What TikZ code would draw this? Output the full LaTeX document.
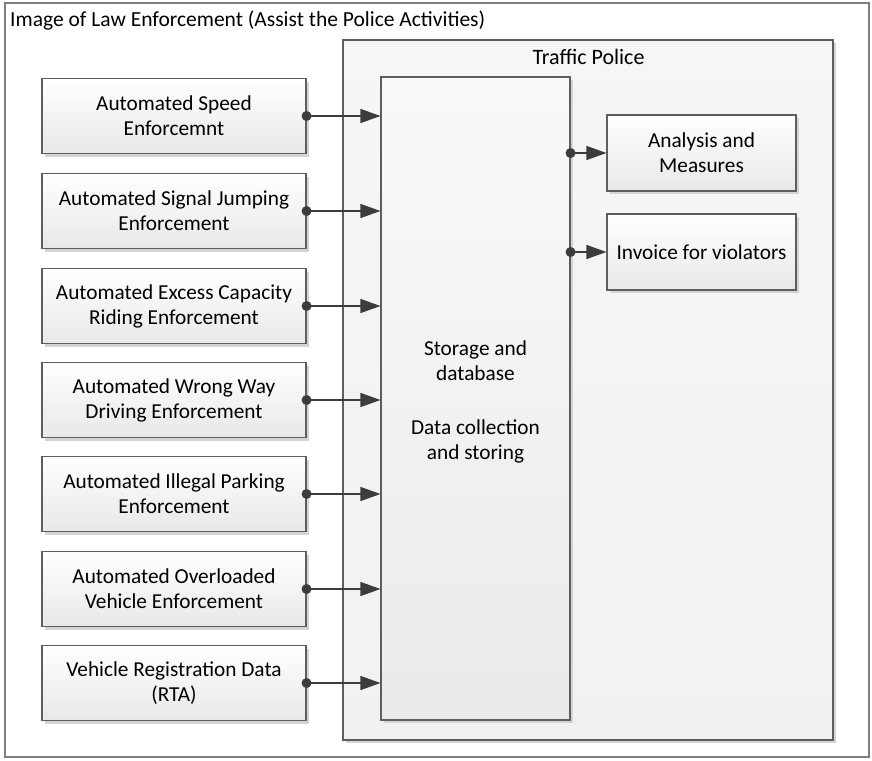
\documentclass[tikz,border=0pt]{standalone}
\usepackage{fontspec}
\setmainfont{Carlito}
\usetikzlibrary{arrows.meta,shadows}
\definecolor{edge}{HTML}{5E5E5E}
\definecolor{boxbot}{HTML}{E8E8E8}
\definecolor{shade}{HTML}{D4D4D4}
\definecolor{wire}{HTML}{3C3C3C}
\begin{document}
\begin{tikzpicture}[x=1pt,y=-1pt,
  boxtext/.style={font=\fontsize{21.3}{25}\selectfont},
  srcbox/.style={boxtext, draw=edge, line width=1.1pt, top color=white, bottom color=boxbot,
    minimum width=264pt, minimum height=75pt, inner sep=0pt, align=center,
    drop shadow={shadow xshift=3pt, shadow yshift=-3pt, fill=shade, opacity=1}},
  outbox/.style={srcbox, minimum width=189pt, minimum height=76pt},
  panel/.style={draw=edge, line width=1.1pt, top color=white!60!boxbot, bottom color=white!40!boxbot,
    drop shadow={shadow xshift=3pt, shadow yshift=-3pt, fill=shade, opacity=1}},
  storebox/.style={draw=edge, line width=1.1pt, top color=white!75!boxbot, bottom color=boxbot!90!white,
    minimum width=189pt, minimum height=643pt, inner sep=0pt,
    drop shadow={shadow xshift=3pt, shadow yshift=-3pt, fill=shade, opacity=1}},
  flow/.style={draw=wire, line width=1.1pt, -{Triangle[length=20pt,width=14pt]}},
  dot/.style={fill=wire, draw=none}
]
\useasboundingbox (0,0) rectangle (872,760);
% outer frame and heading
\node[draw=edge!80, line width=1.2pt, minimum width=864pt, minimum height=754pt, inner sep=0pt] (frame) at (437,380) {};
\node[anchor=west, font=\fontsize{21.5}{25}\selectfont, inner sep=0pt] (title) at (10,20) {Image of Law Enforcement (Assist the Police Activities)};

% traffic police container
\node[panel, minimum width=490pt, minimum height=700pt, inner sep=0pt] (police) at (588,390) {};
\node[font=\fontsize{22}{26}\selectfont, inner sep=0pt] (policelbl) at (588.5,57) {Traffic Police};

% central storage
\node[storebox] (store) at (475.5,398.5) {};
\node[boxtext, align=center, inner sep=0pt] (storetext) at (475.5,401.5) {Storage and\\database\\[29pt]Data collection\\and storing};

% sources
\node[srcbox] (s1) at (174,116) {Automated Speed\\Enforcemnt};
\node[srcbox] (s2) at (174,211) {Automated Signal Jumping\\Enforcement};
\node[srcbox] (s3) at (174,306) {Automated Excess Capacity\\Riding Enforcement};
\node[srcbox] (s4) at (174,400) {Automated Wrong Way\\Driving Enforcement};
\node[srcbox] (s5) at (174,494) {Automated Illegal Parking\\Enforcement};
\node[srcbox] (s6) at (174,589) {Automated Overloaded\\Vehicle Enforcement};
\node[srcbox] (s7) at (174,683) {Vehicle Registration Data\\(RTA)};

% outputs
\node[outbox] (o1) at (701.5,153) {Analysis and\\Measures};
\node[outbox] (o2) at (701.5,252) {Invoice for violators};

% connectors
\foreach \s in {s1,s2,s3,s4,s5,s6,s7}{
  \draw[flow] (\s.east) -- (\s.east -| store.west);
  \fill[dot] (\s.east) circle (5pt);
}
\foreach \o in {o1,o2}{
  \draw[flow] (\o.west -| store.east) -- (\o.west);
  \fill[dot] (\o.west -| store.east) circle (5pt);
}
\end{tikzpicture}
\end{document}
